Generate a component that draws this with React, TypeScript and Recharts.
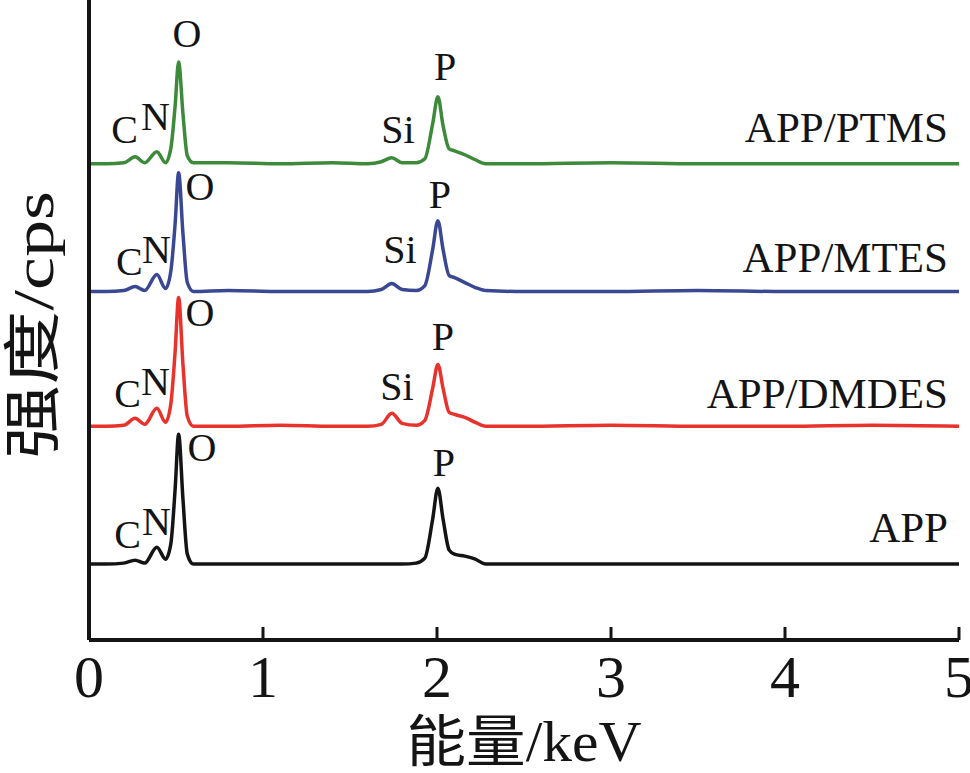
import { Label, Line, LineChart, ReferenceDot, XAxis, YAxis } from "recharts";

// energy grid (keV), denser around the C/N/O and Si/P lines
const energy = [
  0, 0.1, 0.2, 0.265, 0.32, 0.39, 0.44, 0.47, 0.495, 0.515, 0.54, 0.565, 0.6, 0.8, 1.1, 1.4, 1.6,
  1.68, 1.74, 1.8, 1.88, 1.93, 1.975, 2.005, 2.035, 2.07, 2.1, 2.16, 2.22, 2.28, 2.5, 3, 3.5, 4,
  4.5, 5,
];

// counts above each spectrum's own baseline
const appCounts = [
  0, 0, 1, 4, 1, 17, 5, 20, 75, 130, 65, 10, 0, 0, 0, 0, 0, 0, 0, 0, 1, 6, 45, 76, 45, 14, 10, 8,
  5, 0, 0, 0, 0, 0, 0, 0,
];
const dmdesCounts = [
  0, 0, 1, 8, 2, 18, 4, 22, 75, 129, 62, 10, 0, 0, 1, 0, 0, 2, 13, 3, 1, 6, 38, 62, 38, 14, 12, 9,
  4, 0, 0, 1, 0, 0, 1, 0,
];
const mtesCounts = [
  0, 0, 1, 5, 1, 17, 3, 20, 68, 119, 58, 9, 0, 1, 0, 0, 0, 2, 8, 2, 1, 6, 42, 71, 42, 16, 14, 9, 4,
  1, 0, 0, 1, 0, 0, 0,
];
const ptmsCounts = [
  0, 0, 1, 7, 1, 12, 1, 15, 58, 102, 50, 8, 1, 1, 0, 1, 0, 2, 6, 1, 1, 5, 40, 67, 38, 15, 13, 9, 4,
  0, 0, 1, 0, 0, 0, 0,
];

const seriesNames = ["APP", "APP/DMDES", "APP/MTES", "APP/PTMS"];
const seriesCounts = [appCounts, dmdesCounts, mtesCounts, ptmsCounts];
// vertical offsets used to stack the spectra
const seriesOffsets = [76, 214, 349, 477];
const seriesColors = ["#141414", "#e8322c", "#3a4894", "#3d8a3b"];

const xTicks = [0, 1, 2, 3, 4, 5];

// element labels: [text, energy, intensity]
const elementLabels: [string, number, number][] = [
  ["O", 0.563, 607],
  ["C", 0.205, 511],
  ["N", 0.382, 524],
  ["Si", 1.776, 511],
  ["P", 2.046, 574],
  ["O", 0.638, 454],
  ["C", 0.232, 379],
  ["N", 0.388, 391],
  ["Si", 1.787, 391],
  ["P", 2.017, 446],
  ["O", 0.638, 328],
  ["C", 0.222, 247],
  ["N", 0.382, 259],
  ["Si", 1.77, 254],
  ["P", 2.034, 304],
  ["O", 0.649, 193],
  ["C", 0.222, 106],
  ["N", 0.388, 119],
  ["P", 2.04, 178],
];
const nameLabelEnergy = 4.937;
const nameLabelLevels = [113, 247, 383, 513];

const SERIF = '"Liberation Serif", "Times New Roman", "Noto Sans CJK SC", serif';
const INK = "#141414";

const data = energy.map((e, i) => {
  const row: Record<string, number> = { energy: e };
  seriesNames.forEach((name, s) => {
    row[name] = seriesOffsets[s] + seriesCounts[s][i];
  });
  return row;
});

function textAt(text: string, anchor: "middle" | "end", size: number) {
  return (props: any) => {
    const vb = props.viewBox ?? {};
    const x = (vb.x ?? 0) + (vb.width ?? 0) / 2;
    const y = (vb.y ?? 0) + (vb.height ?? 0) / 2;
    return (
      <text
        x={x}
        y={y}
        textAnchor={anchor}
        dominantBaseline="central"
        fontFamily={SERIF}
        fontSize={size}
        fill={INK}
      >
        {text}
      </text>
    );
  };
}

function EnergyTick({ x, y, payload }: any) {
  return (
    <g>
      {payload.value !== 0 ? (
        <line x1={x} x2={x} y1={y - 13} y2={y} stroke={INK} strokeWidth={3} />
      ) : null}
      <text x={x} y={y + 57} textAnchor="middle" fontFamily={SERIF} fontSize={60} fill={INK}>
        {payload.value}
      </text>
    </g>
  );
}

export default function App() {
  return (
    <div style={{ position: "absolute", left: 0, top: 0, background: "#fff" }}>
      <LineChart
        width={970}
        height={773}
        data={data}
        margin={{ top: 0, right: 11, bottom: 0, left: 0 }}
      >
        <XAxis
          dataKey="energy"
          type="number"
          domain={[0, 5]}
          ticks={xTicks}
          tickLine={false}
          tickSize={0}
          tickMargin={0}
          tick={EnergyTick}
          axisLine={{ stroke: INK, strokeWidth: 4 }}
          height={133}
        >
          <Label
            content={(props: any) => {
              const vb = props.viewBox;
              return (
                <text
                  x={vb.x + vb.width / 2}
                  y={vb.y + 121}
                  textAnchor="middle"
                  fontFamily={SERIF}
                  fontSize={56}
                  textLength={235}
                  lengthAdjust="spacingAndGlyphs"
                  fill={INK}
                >
                  能量/keV
                </text>
              );
            }}
          />
        </XAxis>
        <YAxis
          type="number"
          domain={[0, 641]}
          tick={false}
          tickLine={false}
          axisLine={{ stroke: INK, strokeWidth: 4 }}
          width={89}
        >
          <Label
            content={() => (
              <text
                x={33}
                y={325}
                transform="rotate(-90 33 325)"
                textAnchor="middle"
                dominantBaseline="central"
                fontFamily={SERIF}
                fontSize={58}
                textLength={268}
                lengthAdjust="spacingAndGlyphs"
                fill={INK}
              >
                强度/cps
              </text>
            )}
          />
        </YAxis>
        {seriesNames.map((name, s) => (
          <Line
            key={name}
            dataKey={name}
            type="monotone"
            stroke={seriesColors[s]}
            strokeWidth={3.5}
            dot={false}
            activeDot={false}
            isAnimationActive={false}
          />
        ))}
        {elementLabels.map(([text, e, v], i) => (
          <ReferenceDot
            key={`el-${i}`}
            x={e}
            y={v}
            r={1}
            fill="none"
            stroke="none"
            label={textAt(text, "middle", 40)}
          />
        ))}
        {seriesNames.map((name, s) => (
          <ReferenceDot
            key={`name-${name}`}
            x={nameLabelEnergy}
            y={nameLabelLevels[s]}
            r={1}
            fill="none"
            stroke="none"
            label={textAt(name, "end", 43)}
          />
        ))}
      </LineChart>
    </div>
  );
}
